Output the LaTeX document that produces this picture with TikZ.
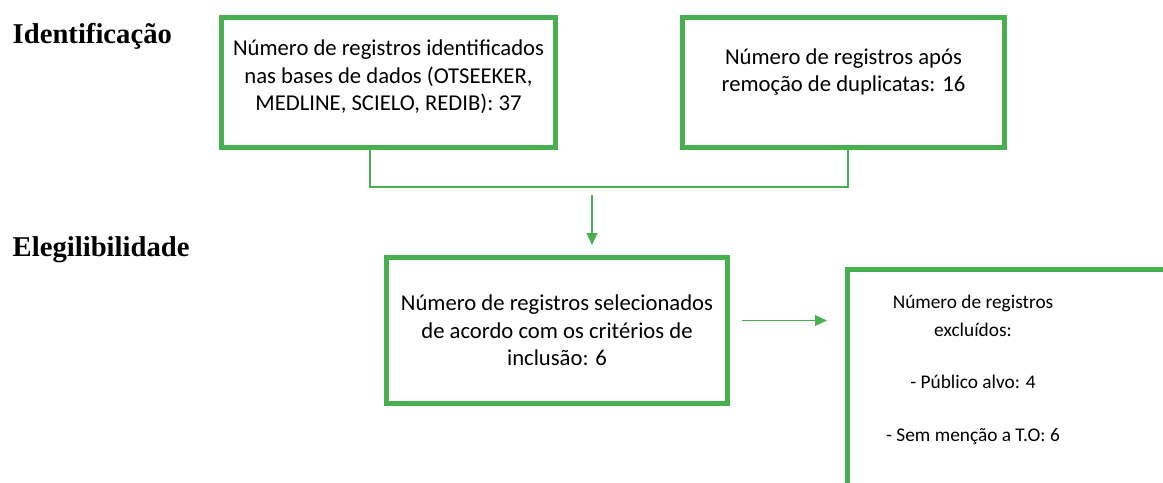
\documentclass[tikz,border=0pt]{standalone}
\usepackage{fontspec}
\setmainfont{Carlito}
\newfontfamily\titlefont{Liberation Serif}
\usetikzlibrary{positioning,arrows.meta}
\definecolor{boxgreen}{RGB}{72,176,80}
\tikzset{
	caixa/.style={draw=boxgreen, line width=3.6pt, fill=white, align=center,
		inner sep=0pt, font=\fontsize{17}{20.5}\selectfont},
	fase/.style={anchor=west, font=\titlefont\bfseries\fontsize{21.5}{24}\selectfont},
	linha/.style={draw=boxgreen, line width=1.1pt},
	seta/.style={linha, -{Triangle[length=9pt,width=8pt]}}
}
\begin{document}
\begin{tikzpicture}[x=0.75pt, y=-0.75pt]
	\useasboundingbox (0,0) rectangle (1163,482);
	\clip (0,0) rectangle (1163,482);
	% Fases
	\node[fase] (ident) at (8, 36) {Identificação};
	\node[fase] (eleg) at (8, 250) {Elegilibilidade};
	% Caixas
	\node[caixa, minimum width=250pt, minimum height=98pt, text depth=11pt]
		(caixa1) at (388.5, 82.5)
		{Número de registros identificados\\ nas bases de dados (OTSEEKER,\\
		MEDLINE, SCIELO, REDIB): 37};
	\node[caixa, minimum width=241pt, minimum height=98pt, text depth=19pt]
		(caixa2) at (843.5, 82.5)
		{Número de registros após\\ remoção de duplicatas: 16};
	\node[caixa, minimum width=256pt, minimum height=109.5pt] (caixa3) at (557, 330.5)
		{Número de registros selecionados\\ de acordo com os critérios de\\
		inclusão: 6};
	\node[caixa, anchor=north west, minimum width=270pt, minimum height=190pt]
		(caixa4) at (845, 267) {};
	\node[align=center, font=\fontsize{14.5}{20.5}\selectfont] (excl) at (973, 370)
		{Número de registros\\ excluídos:\\[19pt] - Público alvo: 4\\[19pt]
		- Sem menção a T.O: 6};
	% Ligacoes
	\coordinate (juncao) at (592, 187);
	\draw[linha] ([xshift=-13.9pt]caixa1.south) |- (juncao)
		-| ([xshift=3.4pt]caixa2.south);
	\draw[seta, shorten <=6pt, shorten >=7.5pt] (juncao) -- (caixa3.north -| juncao);
	\coordinate (saida) at ([yshift=7.5pt]caixa3.east);
	\draw[seta, shorten <=9pt, shorten >=13.5pt] (saida) -- (saida -| caixa4.west);
\end{tikzpicture}
\end{document}
